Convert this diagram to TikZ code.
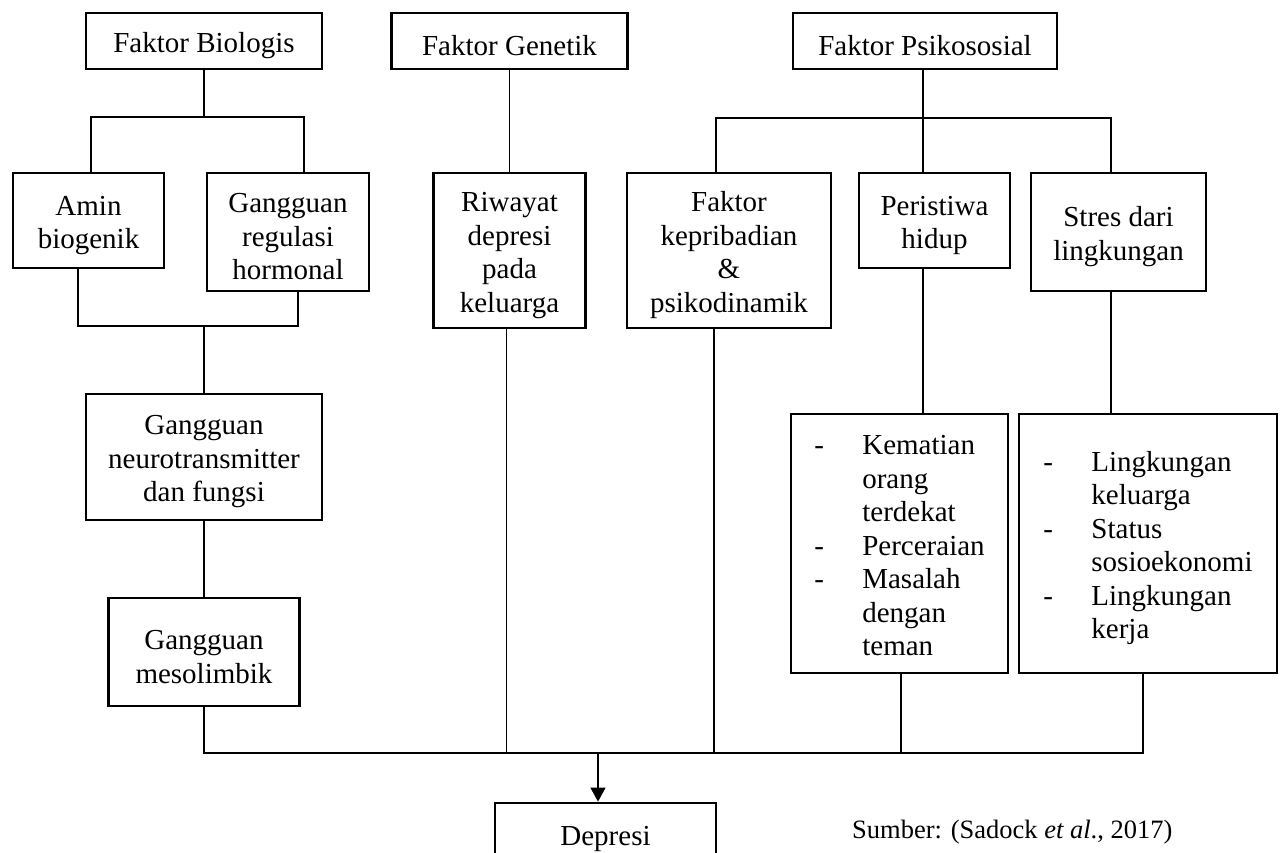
\documentclass[tikz,border=0pt]{standalone}
\usepackage{fontspec}
\setmainfont{Liberation Serif}
\usetikzlibrary{arrows.meta}
\newcommand{\boxfont}{\fontsize{29}{33.5}\selectfont}
\newcommand{\T}{\rule{0pt}{29pt}}
\newcommand{\TT}{\rule{0pt}{33.5pt}}
\begin{document}
\begin{tikzpicture}[x=1pt,y=-1pt,
  box/.style={draw, line width=2.8pt, inner sep=0pt, align=center, font=\boxfont},
  conn/.style={draw, line width=1.3pt},
  arr/.style={conn, -{Triangle[length=14pt,width=15pt]}}]
\clip (0,0) rectangle (1284,853);
\fill[white] (0,0) rectangle (1284,853);
% top level
\node[box, minimum width=236pt, minimum height=56pt] (bio) at (204,41) {\T Faktor Biologis};
\node[box, minimum width=236pt, minimum height=56pt] (gen) at (509.5,41) {\T Faktor Genetik};
\node[box, minimum width=264pt, minimum height=56pt] (psi) at (925,41) {\T Faktor Psikososial};
% second level
\node[box, minimum width=151pt, minimum height=95pt] (amin) at (88.5,220.5) {\T Amin\\biogenik};
\node[box, minimum width=162pt, minimum height=118pt] (hor) at (288,232) {\T Gangguan\\regulasi\\hormonal};
\node[box, minimum width=152pt, minimum height=155pt] (riw) at (509.5,250.5) {\T Riwayat\\depresi\\pada\\keluarga};
\node[box, minimum width=204pt, minimum height=155pt] (kep) at (729,250.5) {\T Faktor\\kepribadian\\\&\\psikodinamik};
\node[box, minimum width=151pt, minimum height=95pt] (per) at (934.5,220.5) {\T Peristiwa\\hidup};
\node[box, minimum width=175pt, minimum height=118pt] (str) at (1118.5,232) {\T Stres dari\\lingkungan};
% lower
\node[box, minimum width=236pt, minimum height=126pt] (neu) at (204,457) {\T Gangguan\\neurotransmitter\\dan fungsi};
\node[box, minimum width=191pt, minimum height=108pt] (mes) at (204,652) {\T Gangguan\\mesolimbik};
\node[box, minimum width=217pt, minimum height=259pt] (kem) at (899.5,543.5) {\begin{tabular}{@{}p{48pt}@{}l@{}}\TT-&Kematian\\&orang\\&terdekat\\-&Perceraian\\-&Masalah\\&dengan\\&teman\end{tabular}};
\node[box, minimum width=258pt, minimum height=259pt] (lin) at (1148,543.5) {\begin{tabular}{@{}p{48pt}@{}l@{}}\TT-&Lingkungan\\&keluarga\\-&Status\\&sosioekonomi\\-&Lingkungan\\&kerja\end{tabular}};
\node[box, minimum width=221pt, minimum height=62pt] (dep) at (605.5,834) {\T Depresi};
\node[anchor=base west, font=\fontsize{26.5}{30}\selectfont, inner sep=0pt] (src) at (852,838) {Sumber: (Sadock \textit{et al}., 2017)};
% junctions
\coordinate (bj) at (204,117);
\coordinate (bj2) at (204,326);
\coordinate (pj) at (923,118);
\coordinate (botR) at (1143,753);
% biological branch
\draw[conn] (bio.south) -- (bj);
\draw[conn] ([xshift=2.5pt]amin.north) |- (bj) -| ([xshift=16pt]hor.north);
\draw[conn] ([xshift=-10.5pt]amin.south) |- (bj2) -| ([xshift=10pt]hor.south);
\draw[conn] (bj2) -- (neu.north);
\draw[conn] (neu.south) -- (mes.north);
% genetic
\draw[conn] (gen.south) -- (riw.north);
% psychosocial
\draw[conn] ([xshift=-2pt]psi.south) -- ([xshift=-11.5pt]per.north);
\draw[conn] ([xshift=-13pt]kep.north) |- (pj) -| ([xshift=-7.5pt]str.north);
\draw[conn] ([xshift=-11.5pt]per.south) -- ([xshift=-11.5pt]per.south |- kem.north);
\draw[conn] ([xshift=-7.5pt]str.south) -- ([xshift=-7.5pt]str.south |- lin.north);
% bottom collector
\draw[conn] (mes.south) |- (botR) -- ([xshift=-5pt]lin.south);
\draw[conn] ([xshift=-3pt]riw.south) -- ([xshift=-3pt]riw.south |- botR);
\draw[conn] ([xshift=-15pt]kep.south) -- ([xshift=-15pt]kep.south |- botR);
\draw[conn] ([xshift=1.5pt]kem.south) -- ([xshift=1.5pt]kem.south |- botR);
\draw[arr] ([xshift=-7.5pt]dep.north |- botR) -- ([xshift=-7.5pt]dep.north);
\end{tikzpicture}
\end{document}
